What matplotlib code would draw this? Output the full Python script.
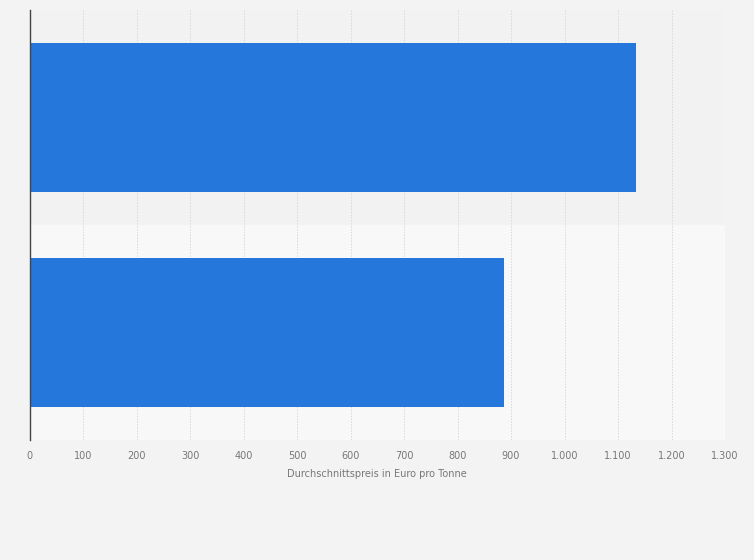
from matplotlib import pyplot as plt
from matplotlib.ticker import FuncFormatter

categories = ["A", "B"]
prices = [1134, 887]
x_ticks = list(range(0, 1301, 100))
x_label = "Durchschnittspreis in Euro pro Tonne"

BAR_COLOR = "#2677db"


def german_thousands(value, pos):
    return "{:,.0f}".format(value).replace(",", ".")


def main():
    fig = plt.figure(figsize=(7.54, 5.6), dpi=100, facecolor="#f3f3f3")
    ax = fig.add_axes([29.5 / 754, 1 - 440 / 560, (725 - 29.5) / 754, 430 / 560])
    ax.set_facecolor("#f3f3f3")

    positions = list(range(len(categories)))
    # alternating row bands
    band_colors = ["#f2f2f2", "#f8f8f8"]
    for pos in positions:
        ax.axhspan(pos - 0.5, pos + 0.5, color=band_colors[pos % 2], zorder=0)

    ax.barh(positions, prices, height=0.69, color=BAR_COLOR, zorder=3)

    ax.set_ylim(len(categories) - 0.5, -0.5)
    ax.set_xlim(0, 1300)
    ax.set_yticks(positions)
    ax.set_yticklabels(["" for _ in categories])
    ax.tick_params(axis="y", length=0)

    ax.set_xticks(x_ticks)
    ax.xaxis.set_major_formatter(FuncFormatter(german_thousands))
    ax.tick_params(axis="x", length=0, pad=8, labelsize=7, labelcolor="#777777")
    ax.grid(axis="x", color="#d8d8d8", linestyle=(0, (1.5, 1.5)), linewidth=0.7, zorder=1)

    for side in ["top", "right", "bottom"]:
        ax.spines[side].set_visible(False)
    ax.spines["left"].set_color("#444444")
    ax.spines["left"].set_linewidth(1)
    ax.spines["left"].set_zorder(4)

    ax.set_xlabel(x_label, fontsize=7, color="#777777", labelpad=6)

    fig.savefig("out.png", dpi=100, facecolor=fig.get_facecolor())


if __name__ == '__main__':
    main()
